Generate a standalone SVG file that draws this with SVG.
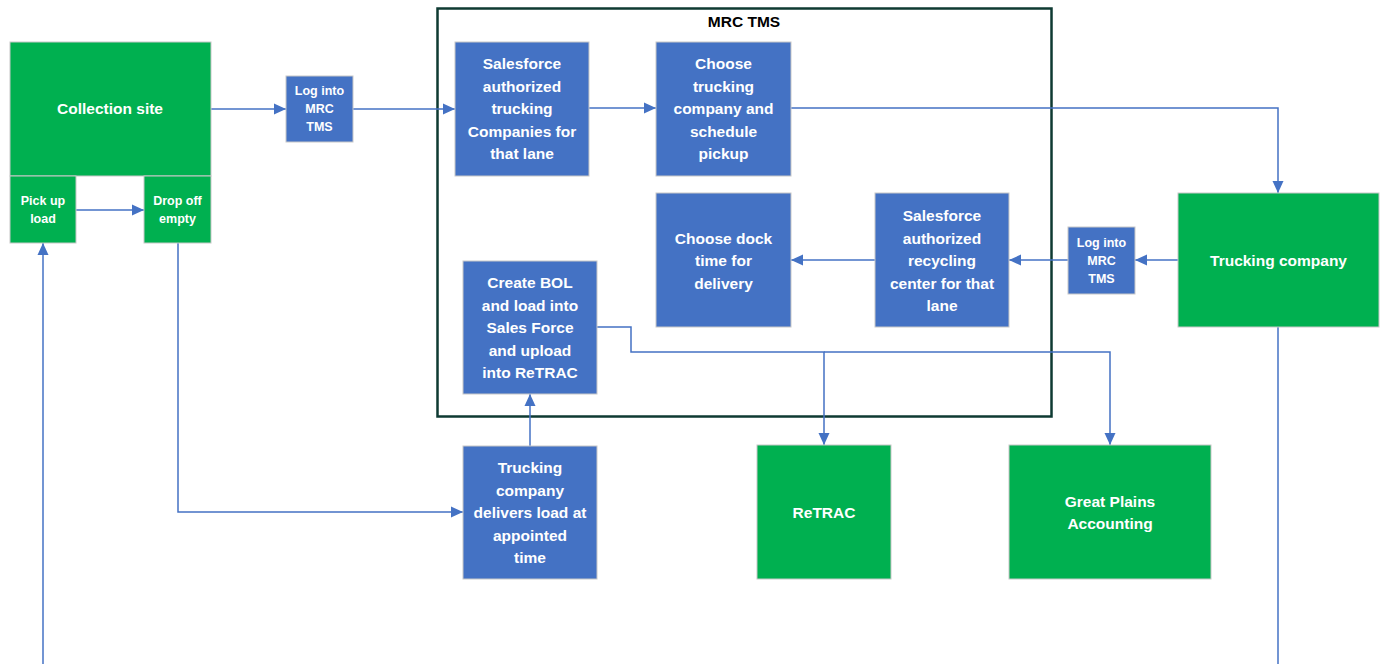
<svg xmlns="http://www.w3.org/2000/svg" width="1383" height="664" viewBox="0 0 1383 664">
<style>
.g{fill:#00B050;stroke:#C8C8C8;stroke-width:1}
.b{fill:#4472C4;stroke:#C8C8C8;stroke-width:1}
.t{font-family:"Liberation Sans",Arial,sans-serif;font-weight:bold;fill:#fff;text-anchor:middle;font-size:15.5px}
.s{font-family:"Liberation Sans",Arial,sans-serif;font-weight:bold;fill:#fff;text-anchor:middle;font-size:12.5px}
.c{fill:none;stroke:#4472C4;stroke-width:1.5}
</style>
<defs>
<marker id="ah" markerUnits="userSpaceOnUse" markerWidth="13" markerHeight="12" refX="12" refY="6" orient="auto">
<path d="M0,0.5 L12,6 L0,11.5 z" fill="#4472C4"/>
</marker>
</defs>
<rect x="0" y="0" width="1383" height="664" fill="#fff"/>
<g id="container">
<rect x="437.5" y="8.5" width="614" height="408" fill="none" stroke="#0E3A32" stroke-width="2.5"/>
<text x="744" y="27" font-family="'Liberation Sans',Arial,sans-serif" font-weight="bold" font-size="15.5" text-anchor="middle" fill="#000">MRC TMS</text>
</g>
<g id="connectors">
<path class="c" d="M211,109 H286" marker-end="url(#ah)"/>
<path class="c" d="M353,109 H455" marker-end="url(#ah)"/>
<path class="c" d="M589,108 H656" marker-end="url(#ah)"/>
<path class="c" d="M791,108 H1278 V193" marker-end="url(#ah)"/>
<path class="c" d="M1178,260 H1135" marker-end="url(#ah)"/>
<path class="c" d="M1068,260 H1009" marker-end="url(#ah)"/>
<path class="c" d="M875,260 H791" marker-end="url(#ah)"/>
<path class="c" d="M76,210 H144" marker-end="url(#ah)"/>
<path class="c" d="M43,664 V243" marker-end="url(#ah)"/>
<path class="c" d="M178,243 V512 H463" marker-end="url(#ah)"/>
<path class="c" d="M530,446 V394" marker-end="url(#ah)"/>
<path class="c" d="M597,327 H631 V352 H824 V445" marker-end="url(#ah)"/>
<path class="c" d="M824,352 H1110 V445" marker-end="url(#ah)"/>
<path class="c" d="M1278,327 V664"/>
</g>
<g id="collection-site">
<rect class="g" x="10" y="42" width="201" height="134"/>
<text class="t" x="110" y="114">Collection site</text>
</g>
<g id="pick-up-load">
<rect class="g" x="10" y="176" width="66" height="67"/>
<text class="s" x="43" y="205">Pick up</text>
<text class="s" x="43" y="223">load</text>
</g>
<g id="drop-off-empty">
<rect class="g" x="144" y="176" width="67" height="67"/>
<text class="s" x="177.5" y="205">Drop off</text>
<text class="s" x="177.5" y="223">empty</text>
</g>
<g id="log-into-1">
<rect class="b" x="286" y="76" width="67" height="66"/>
<text class="s" x="319.5" y="95">Log into</text>
<text class="s" x="319.5" y="113">MRC</text>
<text class="s" x="319.5" y="131">TMS</text>
</g>
<g id="sf-trucking">
<rect class="b" x="455" y="42" width="134" height="134"/>
<text class="t" x="522" y="69">Salesforce</text>
<text class="t" x="522" y="91.5">authorized</text>
<text class="t" x="522" y="114">trucking</text>
<text class="t" x="522" y="136.5">Companies for</text>
<text class="t" x="522" y="159">that lane</text>
</g>
<g id="choose-trucking">
<rect class="b" x="656" y="42" width="135" height="134"/>
<text class="t" x="723.5" y="69">Choose</text>
<text class="t" x="723.5" y="91.5">trucking</text>
<text class="t" x="723.5" y="114">company and</text>
<text class="t" x="723.5" y="136.5">schedule</text>
<text class="t" x="723.5" y="159">pickup</text>
</g>
<g id="choose-dock">
<rect class="b" x="656" y="193" width="135" height="134"/>
<text class="t" x="723.5" y="243.5">Choose dock</text>
<text class="t" x="723.5" y="266">time for</text>
<text class="t" x="723.5" y="288.5">delivery</text>
</g>
<g id="sf-recycling">
<rect class="b" x="875" y="193" width="134" height="134"/>
<text class="t" x="942" y="221">Salesforce</text>
<text class="t" x="942" y="243.5">authorized</text>
<text class="t" x="942" y="266">recycling</text>
<text class="t" x="942" y="288.5">center for that</text>
<text class="t" x="942" y="311">lane</text>
</g>
<g id="log-into-2">
<rect class="b" x="1068" y="227" width="67" height="67"/>
<text class="s" x="1101.5" y="247">Log into</text>
<text class="s" x="1101.5" y="265">MRC</text>
<text class="s" x="1101.5" y="283">TMS</text>
</g>
<g id="trucking-company">
<rect class="g" x="1178" y="193" width="201" height="134"/>
<text class="t" x="1278.5" y="266">Trucking company</text>
</g>
<g id="create-bol">
<rect class="b" x="463" y="261" width="134" height="133"/>
<text class="t" x="530" y="288">Create BOL</text>
<text class="t" x="530" y="310.5">and load into</text>
<text class="t" x="530" y="333">Sales Force</text>
<text class="t" x="530" y="355.5">and upload</text>
<text class="t" x="530" y="378">into ReTRAC</text>
</g>
<g id="trucking-delivers">
<rect class="b" x="463" y="446" width="134" height="133"/>
<text class="t" x="530" y="473">Trucking</text>
<text class="t" x="530" y="495.5">company</text>
<text class="t" x="530" y="518">delivers load at</text>
<text class="t" x="530" y="540.5">appointed</text>
<text class="t" x="530" y="563">time</text>
</g>
<g id="retrac">
<rect class="g" x="757" y="445" width="134" height="134"/>
<text class="t" x="824" y="518">ReTRAC</text>
</g>
<g id="great-plains">
<rect class="g" x="1009" y="445" width="202" height="134"/>
<text class="t" x="1110" y="507">Great Plains</text>
<text class="t" x="1110" y="529">Accounting</text>
</g>
</svg>
